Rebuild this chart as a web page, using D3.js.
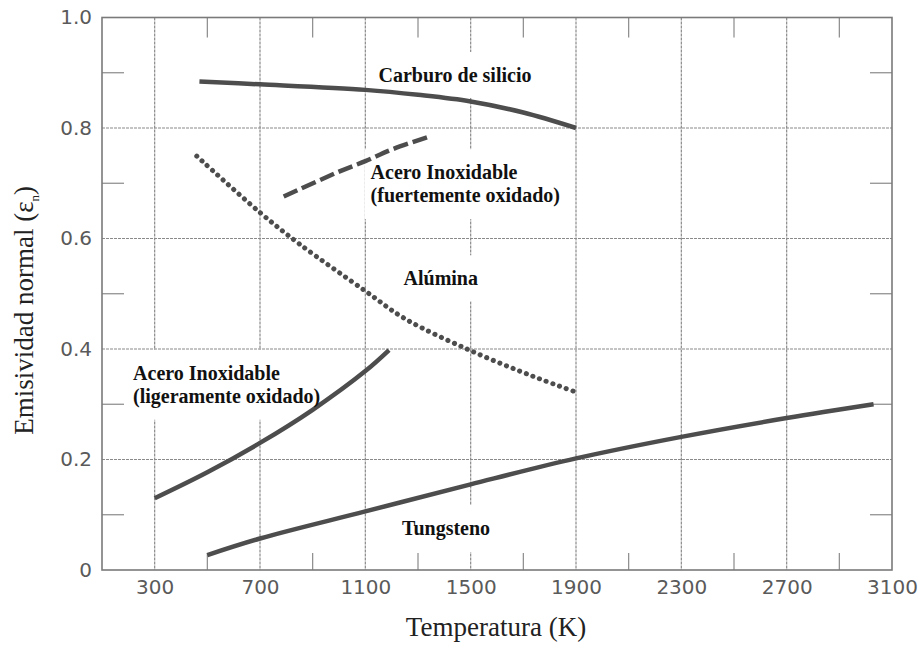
<!DOCTYPE html>
<html>
<head>
<meta charset="utf-8">
<script src="https://cdn.jsdelivr.net/npm/d3@7"></script>
<style>
  body { margin: 0; background: #fff; }
</style>
</head>
<body>
<div id="chart"></div>
<script>
// axis ticks
const xMajor = [300, 700, 1100, 1500, 1900, 2300, 2700, 3100];
const xMinor = [500, 900, 1300, 1700, 2100, 2500, 2900];
const yMajor = [0, 0.2, 0.4, 0.6, 0.8, 1.0];
const yMinor = [0.1, 0.3, 0.5, 0.7, 0.9];
const yLabels = ["0", "0.2", "0.4", "0.6", "0.8", "1.0"];

// curves (temperature K, normal emissivity)
const tSiC = [470, 700, 1100, 1300, 1500, 1700, 1900];
const eSiC = [0.884, 0.879, 0.869, 0.860, 0.848, 0.828, 0.800];

const tAceroFuerte = [790, 1000, 1100, 1200, 1340];
const eAceroFuerte = [0.676, 0.721, 0.740, 0.761, 0.784];

const tAlumina = [460, 700, 850, 1100, 1250, 1500, 1740, 1900];
const eAlumina = [0.749, 0.647, 0.590, 0.505, 0.455, 0.397, 0.350, 0.322];

const tAceroLigero = [300, 500, 700, 900, 1100, 1190];
const eAceroLigero = [0.130, 0.177, 0.230, 0.290, 0.360, 0.398];

const tTungsteno = [500, 700, 1100, 1500, 1900, 2300, 2700, 3030];
const eTungsteno = [0.027, 0.057, 0.106, 0.155, 0.202, 0.241, 0.275, 0.300];

// curve labels (in data coordinates)
const labels = [
  { lines: ["Carburo de silicio"], t: 1150, e: 0.896 },
  { lines: ["Acero Inoxidable", "(fuertemente oxidado)"], t: 1120, e: 0.720 },
  { lines: ["Alúmina"], t: 1245, e: 0.528 },
  { lines: ["Acero Inoxidable", "(ligeramente oxidado)"], t: 218, e: 0.357 },
  { lines: ["Tungsteno"], t: 1239, e: 0.076 }
];

const margin = { top: 17.5, right: 31, bottom: 76, left: 102 };
const width = 923 - margin.left - margin.right;
const height = 646 - margin.top - margin.bottom;

const svg = d3.select("#chart")
  .append("svg")
    .attr("width", 923)
    .attr("height", 646)
  .append("g")
    .attr("transform", `translate(${margin.left},${margin.top})`);

const x = d3.scaleLinear().domain([100, 3100]).range([0, width]);
const y = d3.scaleLinear().domain([0, 1]).range([height, 0]);

const gridColor = "#8a8a8a";
const curveColor = "#4d4d4d";
const labelFont = "'Liberation Serif', 'Times New Roman', serif";
const lineH = 23;

function drawLabels(parent) {
  labels.forEach(l => {
    const g = parent.append("g");
    l.lines.forEach((s, i) => {
      g.append("text")
        .attr("x", x(l.t))
        .attr("y", y(l.e) + i * lineH)
        .attr("dy", "0.35em")
        .style("font-family", labelFont)
        .style("font-weight", "bold")
        .style("font-size", "20px")
        .style("fill", "#111")
        .text(s);
    });
    l.node = g.node();
  });
}

// vertical grid lines (drawn first so label boxes can break them)
svg.selectAll(".vgrid")
  .data(xMajor.filter(d => d < 3100))
  .enter().append("line")
    .attr("x1", d => x(d)).attr("x2", d => x(d))
    .attr("y1", 0).attr("y2", height)
    .attr("stroke", gridColor)
    .attr("stroke-width", 1.2)
    .attr("stroke-dasharray", "3,1");

// white boxes behind the labels break the vertical grid
const measure = svg.append("g");
drawLabels(measure);
labels.forEach(l => {
  const b = l.node.getBBox();
  svg.append("rect")
    .attr("x", b.x - 6).attr("y", b.y - 12)
    .attr("width", b.width + 12).attr("height", b.height + 24)
    .attr("fill", "#fff");
});
measure.remove();

// horizontal grid lines
svg.selectAll(".hgrid")
  .data(yMajor.filter(d => d > 0 && d < 1))
  .enter().append("line")
    .attr("x1", 0).attr("x2", width)
    .attr("y1", d => y(d)).attr("y2", d => y(d))
    .attr("stroke", gridColor)
    .attr("stroke-width", 1.2)
    .attr("stroke-dasharray", "3,1");

// minor ticks on all four sides
xMinor.forEach(d => {
  svg.append("line")
    .attr("x1", x(d)).attr("x2", x(d)).attr("y1", height).attr("y2", height - 17)
    .attr("stroke", gridColor).attr("stroke-width", 1.2);
  svg.append("line")
    .attr("x1", x(d)).attr("x2", x(d)).attr("y1", 0).attr("y2", 20)
    .attr("stroke", gridColor).attr("stroke-width", 1.2);
});
yMinor.forEach(d => {
  svg.append("line")
    .attr("x1", 0).attr("x2", 22).attr("y1", y(d)).attr("y2", y(d))
    .attr("stroke", gridColor).attr("stroke-width", 1.2);
  svg.append("line")
    .attr("x1", width - 22).attr("x2", width).attr("y1", y(d)).attr("y2", y(d))
    .attr("stroke", gridColor).attr("stroke-width", 1.2);
});

// frame
svg.append("rect")
  .attr("width", width).attr("height", height)
  .attr("fill", "none")
  .attr("stroke", "#7a7a7a")
  .attr("stroke-width", 1.6);

// tick labels
const tickFont = "'DejaVu Sans', Verdana, sans-serif";
const xAxis = svg.append("g")
  .attr("transform", "translate(0," + height + ")")
  .call(d3.axisBottom(x).tickValues(xMajor).tickSize(0).tickPadding(10).tickFormat(d3.format("d")));
const yAxis = svg.append("g")
  .call(d3.axisLeft(y).tickValues(yMajor).tickSize(0).tickPadding(10).tickFormat((d, i) => yLabels[i]));
[xAxis, yAxis].forEach(a => {
  a.select(".domain").remove();
  a.selectAll("text")
    .style("font-family", tickFont)
    .style("font-size", "20px")
    .style("fill", "#5a5a5a");
});

// curves
const line = d3.line()
  .x(d => x(d[0]))
  .y(d => y(d[1]))
  .curve(d3.curveCatmullRom.alpha(0.5));

const series = [
  { t: tSiC, e: eSiC, style: "solid" },
  { t: tAceroFuerte, e: eAceroFuerte, style: "dash" },
  { t: tAlumina, e: eAlumina, style: "dot" },
  { t: tAceroLigero, e: eAceroLigero, style: "solid" },
  { t: tTungsteno, e: eTungsteno, style: "solid" }
];

series.forEach(s => {
  svg.append("path")
    .datum(d3.zip(s.t, s.e))
    .attr("d", line)
    .attr("fill", "none")
    .attr("stroke", curveColor)
    .attr("stroke-width", s.style === "dot" ? 5 : 4.5)
    .attr("stroke-linecap", s.style === "dot" ? "round" : "butt")
    .attr("stroke-dasharray", s.style === "dot" ? "0.1,7" : s.style === "dash" ? "15,5" : null);
});

// curve labels on top
drawLabels(svg.append("g"));

// axis titles
const titleFont = "'Liberation Serif', 'Times New Roman', serif";
svg.append("text")
  .attr("x", x(1600) - 1)
  .attr("y", height + 66)
  .style("text-anchor", "middle")
  .style("font-family", titleFont)
  .style("font-size", "27px")
  .style("fill", "#222")
  .text("Temperatura (K)");

const yt = svg.append("text")
  .attr("transform", "rotate(-90)")
  .attr("x", -(y(0.47)))
  .attr("y", 33 - margin.left)
  .style("text-anchor", "middle")
  .style("font-family", titleFont)
  .style("font-size", "27px")
  .style("fill", "#222");
yt.append("tspan").text("Emisividad normal (ε");
yt.append("tspan").attr("dy", 6).style("font-size", "13px").text("n");
yt.append("tspan").attr("dy", -6).text(")");
</script>
</body>
</html>
